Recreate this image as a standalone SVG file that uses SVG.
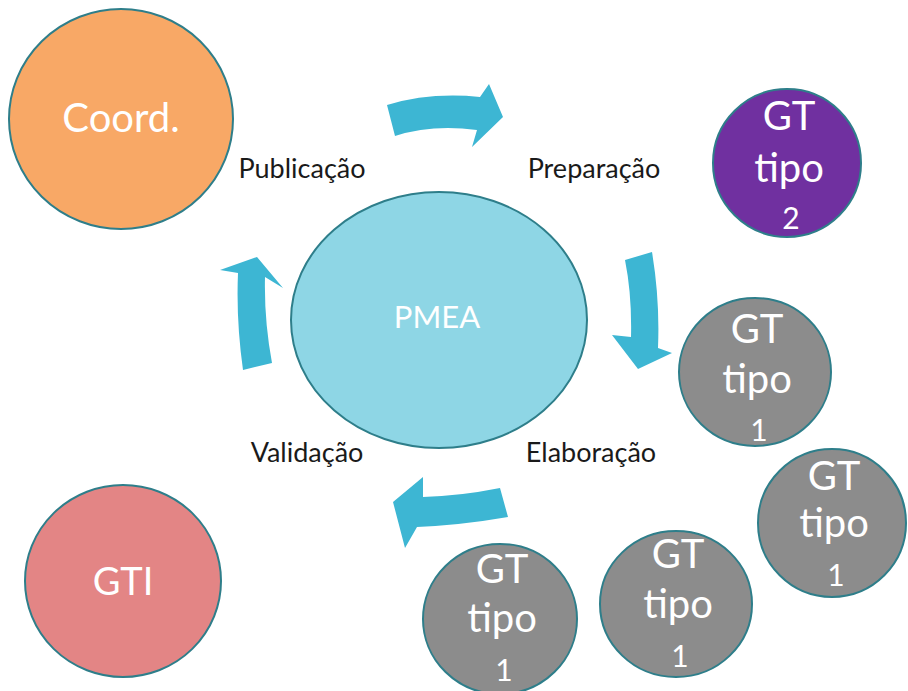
<svg xmlns="http://www.w3.org/2000/svg" width="908" height="691" viewBox="0 0 908 691">
<style>
.c{stroke:#2E7E8A;stroke-width:2}
.w{fill:#fff;font-family:Lato,"Open Sans",sans-serif;text-anchor:middle}
.gt{font-size:40px}
.n{font-size:30px}
.lbl{fill:#1a1a1a;font-family:Lato,"Open Sans",sans-serif;font-size:27px;text-anchor:middle}
.arr{fill:#3DB6D3}
</style>
<rect width="908" height="691" fill="#fff"/>
<g id="connectors">
<path class="arr" d="M387,105 Q430,92 480,97 L489,84 L503,117 L472,147 L477,130 Q432,124 395,136 Z"/>
<path class="arr" d="M625,260 L652,252 Q660,300 658,348 L672,353 L638,369 L612,335 L631,337 Q632,295 625,260 Z"/>
<path class="arr" d="M500,488 Q460,496 423,497 L423,477 L393,502 L405,548 L417,527 Q462,525 508,517 Z"/>
<path class="arr" d="M243,370 Q236,320 238,273 L220,270 L257,257 L283,288 L265,277 Q264,320 272,363 Z"/>
</g>
<g id="pmea">
<ellipse class="c" cx="439" cy="320" rx="148" ry="128" fill="#8ED6E5"/>
<text class="w" x="437" y="328" font-size="31">PMEA</text>
</g>
<g id="coord">
<ellipse class="c" cx="121" cy="119" rx="112" ry="110" fill="#F8A866"/>
<text class="w" x="121" y="132" font-size="40">Coord.</text>
</g>
<g id="gti">
<ellipse class="c" cx="123" cy="581" rx="98" ry="96" fill="#E38585"/>
<text class="w" x="123" y="595" font-size="38">GTI</text>
</g>
<g id="gt2">
<ellipse class="c" cx="787" cy="163" rx="74" ry="74" fill="#7030A0"/>
<text class="w gt" x="789" y="130">GT</text>
<text class="w gt" x="789" y="182">tipo</text>
<text class="w n" x="791" y="229">2</text>
</g>
<g id="gt1a">
<ellipse class="c" cx="755" cy="372" rx="76" ry="74" fill="#8C8C8C"/>
<text class="w gt" x="757" y="343">GT</text>
<text class="w gt" x="757" y="393">tipo</text>
<text class="w n" x="759" y="441">1</text>
</g>
<g id="gt1b">
<ellipse class="c" cx="832" cy="523" rx="74" ry="74" fill="#8C8C8C"/>
<text class="w gt" x="834" y="490">GT</text>
<text class="w gt" x="834" y="537">tipo</text>
<text class="w n" x="836" y="586">1</text>
</g>
<g id="gt1c">
<ellipse class="c" cx="676" cy="604" rx="76" ry="73" fill="#8C8C8C"/>
<text class="w gt" x="678" y="568">GT</text>
<text class="w gt" x="678" y="618">tipo</text>
<text class="w n" x="680" y="667">1</text>
</g>
<g id="gt1d">
<ellipse class="c" cx="500" cy="619" rx="77" ry="75" fill="#8C8C8C"/>
<text class="w gt" x="502" y="583">GT</text>
<text class="w gt" x="502" y="632">tipo</text>
<text class="w n" x="504" y="681">1</text>
</g>
<g id="labels">
<text class="lbl" x="302" y="178">Publicação</text>
<text class="lbl" x="594" y="178">Preparação</text>
<text class="lbl" x="307" y="462">Validação</text>
<text class="lbl" x="591" y="462">Elaboração</text>
</g>
</svg>
